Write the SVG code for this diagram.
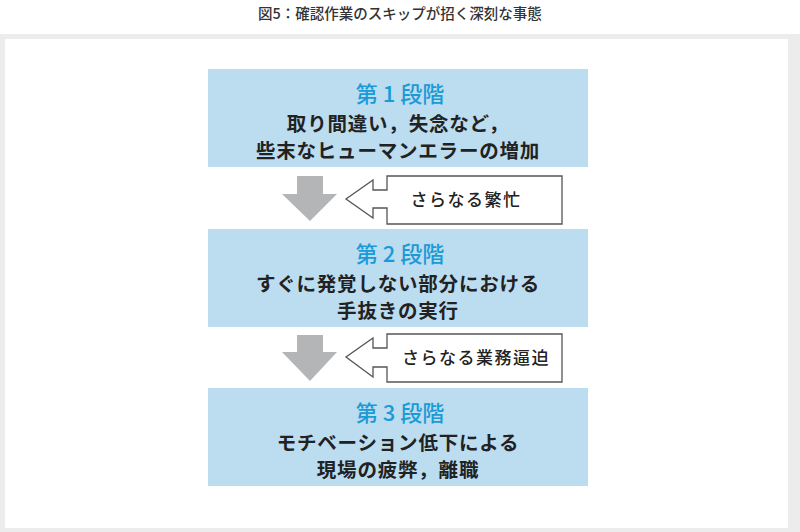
<svg xmlns="http://www.w3.org/2000/svg" width="800" height="532" viewBox="0 0 800 532">
<style>
text{font-family:"Noto Sans CJK JP","Noto Sans",sans-serif;text-anchor:middle}
.t{font-size:14.5px;fill:#333;font-weight:500}
.box{fill:#bcdcf0}
.h{font-size:22px;fill:#1a9ad6;font-weight:500}
.b{font-size:19.5px;fill:#222;font-weight:700;letter-spacing:0.8px}
.c{font-size:17px;fill:#222;font-weight:500;letter-spacing:1.5px}
.dn{fill:#b3b5b6}
.co{fill:#fff;stroke:#555;stroke-width:1.3}
</style>
<rect x="0" y="34" width="800" height="498" fill="#ececec"/>
<rect x="5" y="39" width="783" height="489" fill="#fff"/>
<text class="t" x="400" y="19">図5：確認作業のスキップが招く深刻な事態</text>
<g id="stage1"><rect class="box" x="208" y="69" width="380" height="98"/>
<text class="h" x="400" y="102">第 1 段階</text>
<text class="b" x="398" y="131">取り間違い，失念など，</text>
<text class="b" x="398" y="158">些末なヒューマンエラーの増加</text></g>
<g id="stage2"><rect class="box" x="208" y="229" width="380" height="98"/>
<text class="h" x="400" y="262">第 2 段階</text>
<text class="b" x="398" y="291">すぐに発覚しない部分における</text>
<text class="b" x="398" y="318">手抜きの実行</text></g>
<g id="stage3"><rect class="box" x="208" y="388" width="380" height="98"/>
<text class="h" x="400" y="421">第 3 段階</text>
<text class="b" x="398" y="450">モチベーション低下による</text>
<text class="b" x="398" y="477">現場の疲弊，離職</text></g>
<g id="connectors">
<path class="dn" d="M297,176H323V194H337L310,221L282,194H297Z"/>
<path class="dn" d="M297,335H323V352H337L310,381L282,352H297Z"/>
</g>
<g id="callout1"><path class="co" d="M387,176V190H373V180L346,199L373,218V208H387V224H562V176Z"/>
<text class="c" x="466" y="206">さらなる繁忙</text></g>
<g id="callout2"><path class="co" d="M387,334V348H373V338L346,357L373,377V367H387V382H562V334Z"/>
<text class="c" x="476" y="364">さらなる業務逼迫</text></g>
</svg>
